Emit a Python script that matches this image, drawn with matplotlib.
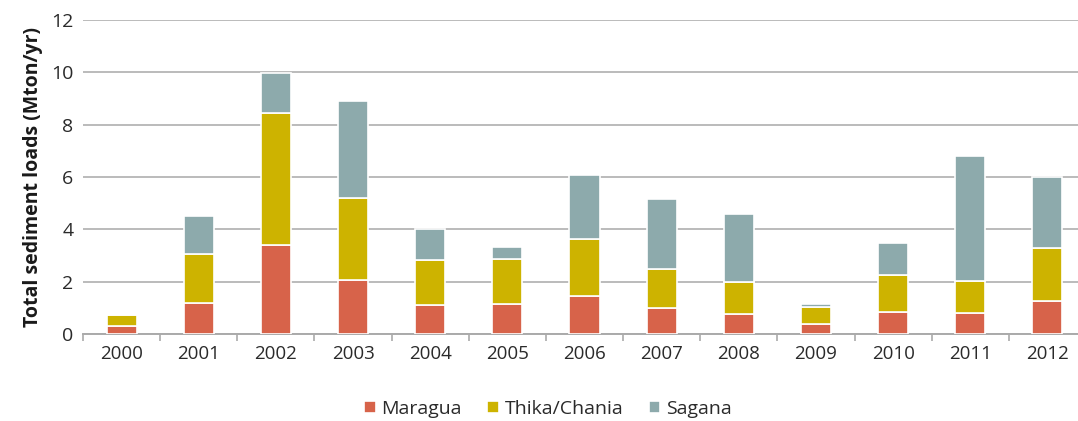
import matplotlib
matplotlib.use("Agg")
import matplotlib.pyplot as plt
import numpy as np

years = ["2000", "2001", "2002", "2003", "2004", "2005", "2006",
         "2007", "2008", "2009", "2010", "2011", "2012"]
maragua = [0.30, 1.20, 3.40, 2.06, 1.11, 1.13, 1.45, 0.98, 0.78, 0.38, 0.85, 0.79, 1.27]
thika = [0.43, 1.85, 5.06, 3.12, 1.72, 1.74, 2.17, 1.52, 1.22, 0.64, 1.40, 1.24, 2.00]
sagana = [0.00, 1.45, 1.50, 3.74, 1.18, 0.44, 2.47, 2.67, 2.60, 0.14, 1.23, 4.76, 2.73]
series_names = ["Maragua", "Thika/Chania", "Sagana"]
colors = ["#D7634A", "#CDB300", "#8DAAAC"]
yticks = [0, 2, 4, 6, 8, 10, 12]

plt.rcParams['font.family'] = ['Open Sans', 'DejaVu Sans']

fig = plt.figure(figsize=(10.78, 4.21), dpi=100)
ax = fig.add_axes([83/1078, 1 - 334/421, (1086 - 83)/1078, (334 - 20)/421])

x = np.arange(len(years))
bottom = np.zeros(len(years))
for name, vals, c in zip(series_names, [maragua, thika, sagana], colors):
    v = np.array(vals)
    ax.bar(x, v, width=0.39, bottom=bottom, color=c, edgecolor="white",
           linewidth=1.2, label=name, zorder=3)
    bottom += v

ax.set_xlim(-0.5, len(years) - 0.5)
ax.set_ylim(0, 12)
ax.set_yticks(yticks)
ax.set_yticklabels([str(t) for t in yticks], fontsize=14, color="#2a2a2a")
ax.set_xticks(x)
ax.set_xticklabels(years, fontsize=13.5, color="#2a2a2a")
ax.set_xticks(np.arange(len(years) + 1) - 0.5, minor=True)
ax.tick_params(axis='x', which='major', length=0, pad=8)
ax.tick_params(axis='x', which='minor', length=5, width=1.2, color="#AAAAAA")
ax.tick_params(axis='y', length=0, pad=7)

ax.grid(axis='y', color="#BBBBBB", linewidth=1.4, zorder=0)
for s in ["top", "right", "left"]:
    ax.spines[s].set_visible(False)
ax.spines["bottom"].set_color("#AAAAAA")
ax.spines["bottom"].set_linewidth(1.4)

ax.set_ylabel("Total sediment loads (Mton/yr)", fontsize=14, fontweight="bold",
              color="#1a1a1a", labelpad=6)

handles, labels = ax.get_legend_handles_labels()
leg = fig.legend(handles, labels, loc="center", bbox_to_anchor=(548/1078, 1 - 409/421),
                 ncol=3, frameon=False, fontsize=14, handlelength=0.6, handleheight=0.6,
                 handletextpad=0.3, columnspacing=1.3)
for t in leg.get_texts():
    t.set_color("#2a2a2a")

fig.savefig("out.png", dpi=100)
